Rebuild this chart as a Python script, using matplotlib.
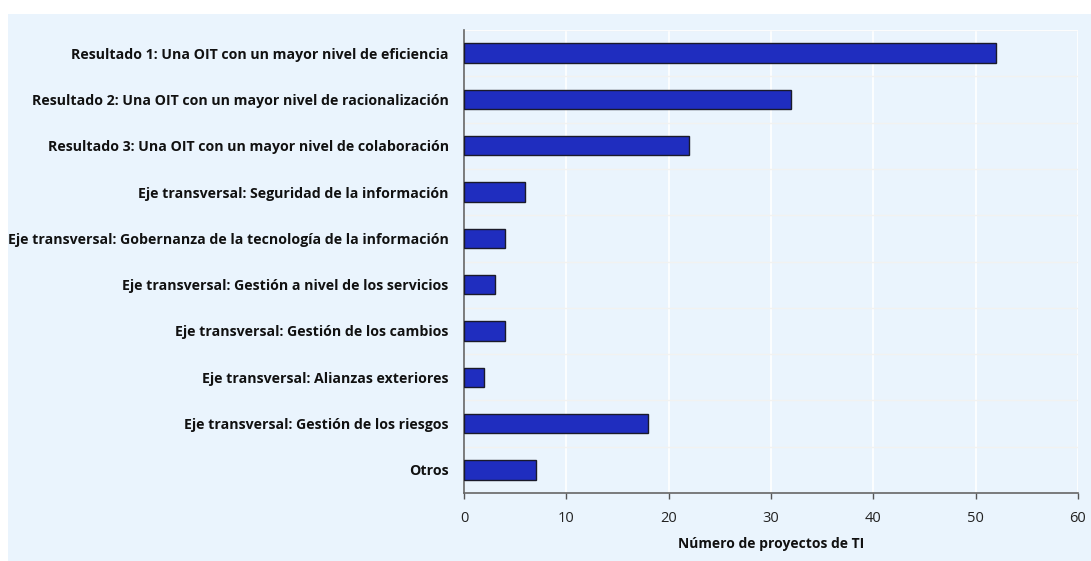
import matplotlib
matplotlib.use("Agg")
import matplotlib.pyplot as plt
from matplotlib.patches import Rectangle

categories = [
    "Resultado 1: Una OIT con un mayor nivel de eficiencia",
    "Resultado 2: Una OIT con un mayor nivel de racionalización",
    "Resultado 3: Una OIT con un mayor nivel de colaboración",
    "Eje transversal: Seguridad de la información",
    "Eje transversal: Gobernanza de la tecnología de la información",
    "Eje transversal: Gestión a nivel de los servicios",
    "Eje transversal: Gestión de los cambios",
    "Eje transversal: Alianzas exteriores",
    "Eje transversal: Gestión de los riesgos",
    "Otros",
]
values = [52, 32, 22, 6, 4, 3, 4, 2, 18, 7]
xticks = [0, 10, 20, 30, 40, 50, 60]
xlabel = "Número de proyectos de TI"

plt.rcParams['font.family'] = ['Open Sans', 'DejaVu Sans']

W, H = 1091, 561
fig = plt.figure(figsize=(W / 100, H / 100), dpi=100)
fig.patch.set_facecolor('white')
bg = '#EAF4FD'
rect = Rectangle((8 / W, 0), (W - 8) / W, (H - 14) / H,
                 transform=fig.transFigure, facecolor=bg, edgecolor='none', zorder=-10)
fig.add_artist(rect)

ax = fig.add_axes([464 / W, 1 - 493 / H, (1078 - 464) / W, (493 - 30) / H])
ax.set_zorder(1)
ax.set_facecolor(bg)

n = len(categories)
ypos = list(range(n))
ax.barh(ypos, values, height=0.42, color='#1F2DBF', edgecolor='#1a1a2a', linewidth=1.0, zorder=3)
ax.set_ylim(n - 0.5, -0.5)
ax.set_xlim(0, 60)
ax.set_xticks(xticks)
ax.set_xticklabels([str(t) for t in xticks], fontsize=10.5, color='#222222')
ax.set_yticks(ypos)
ax.set_yticklabels(categories, fontsize=10.2, fontweight='bold', color='#111111')
ax.tick_params(axis='y', length=0, pad=11)
ax.tick_params(axis='x', length=4, width=1, color='#555555', pad=9)

# gridlines
ax.set_yticks([i + 0.5 for i in range(-1, n)], minor=True)
ax.grid(axis='y', which='minor', color='#F2F2F0', linewidth=1.0, zorder=1)
ax.tick_params(axis='y', which='minor', length=0)
ax.grid(axis='x', which='major', color='white', linewidth=1.2, zorder=1)
ax.set_axisbelow(True)

for s in ['top', 'right']:
    ax.spines[s].set_visible(False)
for s in ['left', 'bottom']:
    ax.spines[s].set_color('#666666')
    ax.spines[s].set_linewidth(1.2)
ax.axhline(-0.5, color='white', linewidth=1.2, zorder=1)

ax.set_xlabel(xlabel, fontsize=10, fontweight='bold', color='#111111', labelpad=8)

fig.savefig('out.png', dpi=100, facecolor='white')
